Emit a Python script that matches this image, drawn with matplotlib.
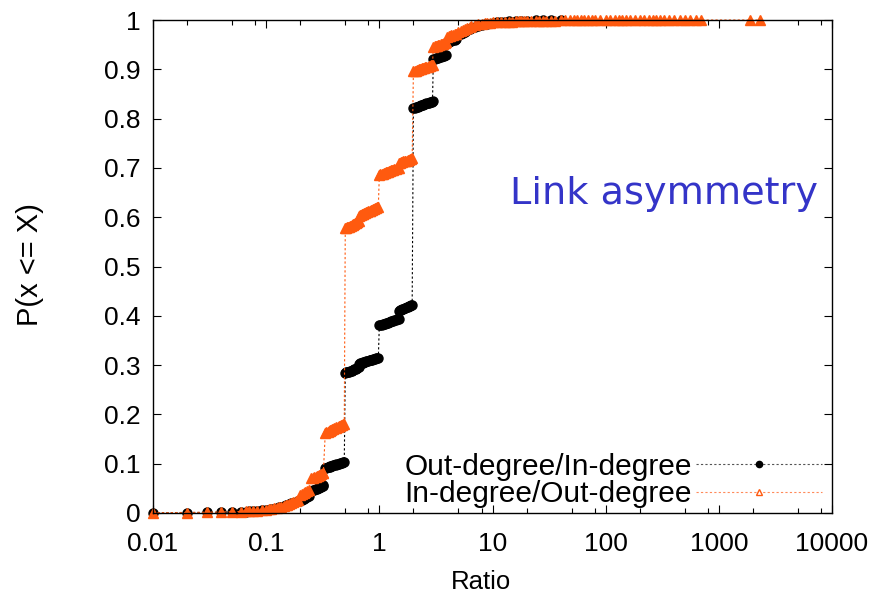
import matplotlib
matplotlib.use('Agg')
import matplotlib.pyplot as plt
from matplotlib.lines import Line2D
from matplotlib.ticker import FixedLocator, NullFormatter

# ratio values where both CDFs have points (grouped by step)
ratio_steps = [
    0.01, 0.02, 0.03, 0.04, 0.05, 0.06, 0.067, 0.071, 0.077, 0.083, 0.091, 0.1,
    0.105, 0.111, 0.118, 0.125, 0.13, 0.136, 0.143, 0.15, 0.154, 0.16, 0.167, 0.174, 0.182, 0.19,
    0.2, 0.208, 0.214, 0.222, 0.231, 0.24,
    0.25, 0.26, 0.267, 0.273, 0.28, 0.286, 0.294, 0.3, 0.308, 0.316, 0.32,
    0.333, 0.34, 0.35, 0.357, 0.364, 0.37, 0.375, 0.385, 0.39, 0.4, 0.41, 0.417, 0.43, 0.44,
    0.45, 0.46, 0.47, 0.48, 0.49,
    0.5, 0.51, 0.52, 0.53, 0.54, 0.55, 0.56, 0.57, 0.58, 0.59, 0.6, 0.61, 0.62, 0.63, 0.64,
    0.65, 0.66,
    0.667, 0.68, 0.69, 0.7, 0.71, 0.72, 0.73, 0.75, 0.76, 0.78, 0.8, 0.82, 0.83, 0.85, 0.86,
    0.88, 0.9, 0.92, 0.94, 0.96, 0.98,
    1.0, 1.02, 1.05, 1.07, 1.1, 1.12, 1.15, 1.18, 1.2, 1.22, 1.25, 1.28, 1.3, 1.33, 1.36,
    1.4, 1.43, 1.46, 1.48,
    1.5, 1.53, 1.56, 1.6, 1.63, 1.67, 1.7, 1.75, 1.8, 1.83, 1.86, 1.9, 1.95,
    2.0, 2.05, 2.1, 2.15, 2.2, 2.25, 2.3, 2.35, 2.4, 2.45, 2.5, 2.55, 2.6, 2.67, 2.75,
    2.8, 2.86, 2.9, 2.95,
    3.0, 3.1, 3.2, 3.25, 3.33, 3.4, 3.5, 3.6, 3.67, 3.75, 3.8, 3.9,
]

black_tail_x = [4.0, 4.14, 4.25, 4.33, 4.5, 4.67, 4.8, 5.0, 5.25, 5.5, 5.67, 6.0, 6.33, 6.5,
                7.0, 7.5, 8.0, 8.5, 9.0, 10.0, 11.0, 12.0, 13.0, 14.0, 16.0, 18.0, 20.0,
                24.0, 28.0, 33.0, 40.0]

orange_tail_x = [4.0, 4.14, 4.25, 4.33, 4.5, 4.67, 4.8,
                 5.0, 5.25, 5.5, 5.67, 6.0, 6.33, 6.5, 7.0, 7.5, 8.0, 8.5, 9.0, 9.5,
                 10, 11, 12, 13, 14, 15, 16, 17, 18, 19, 20,
                 22, 24, 26, 28, 30, 33, 36, 40, 44, 48, 52, 56, 60, 65, 70, 75, 80,
                 90, 100, 110, 120, 130, 140, 150, 165, 180, 200, 220, 240, 260, 280, 300,
                 330, 360, 400, 450, 500, 560, 630, 700,
                 1900, 2300]

# Out-degree/In-degree CDF
black_cdf = [
    0.0004, 0.0008, 0.0012, 0.0016, 0.002, 0.0026, 0.003, 0.0034, 0.004, 0.0046, 0.0054, 0.0062,
    0.007, 0.008, 0.009, 0.0105, 0.0115, 0.0125, 0.014, 0.0155, 0.0165, 0.018, 0.0195, 0.021, 0.0225, 0.024,
    0.025, 0.027, 0.029, 0.031, 0.033, 0.035,
    0.045, 0.046, 0.047, 0.048, 0.049, 0.050, 0.051, 0.052, 0.053, 0.055, 0.056,
    0.091, 0.092, 0.093, 0.093, 0.094, 0.095, 0.095, 0.096, 0.097, 0.098, 0.098, 0.099, 0.100, 0.100,
    0.101, 0.102, 0.102, 0.103, 0.104,
    0.284, 0.285, 0.285, 0.286, 0.287, 0.288, 0.288, 0.289, 0.290, 0.291, 0.292, 0.293, 0.293, 0.294, 0.295,
    0.296, 0.297,
    0.303, 0.304, 0.304, 0.305, 0.305, 0.306, 0.306, 0.307, 0.308, 0.308, 0.309, 0.310, 0.310, 0.311, 0.311,
    0.312, 0.313, 0.313, 0.314, 0.315, 0.315,
    0.381, 0.382, 0.382, 0.383, 0.384, 0.384, 0.385, 0.386, 0.386, 0.387, 0.388, 0.389, 0.389, 0.390, 0.391,
    0.392, 0.393, 0.393, 0.394,
    0.410, 0.411, 0.412, 0.413, 0.414, 0.415, 0.416, 0.417, 0.418, 0.419, 0.420, 0.421, 0.422,
    0.821, 0.822, 0.823, 0.824, 0.824, 0.825, 0.826, 0.827, 0.828, 0.828, 0.829, 0.830, 0.831, 0.831, 0.832,
    0.833, 0.834, 0.834, 0.835,
    0.920, 0.921, 0.922, 0.922, 0.923, 0.924, 0.925, 0.926, 0.926, 0.927, 0.928, 0.929,
    0.955, 0.956, 0.957, 0.958, 0.959, 0.960, 0.961, 0.969, 0.971, 0.973, 0.975, 0.979, 0.981, 0.983,
    0.986, 0.988, 0.990, 0.991, 0.992, 0.994, 0.995, 0.996, 0.9965, 0.997, 0.9975, 0.998, 0.9985,
    0.999, 0.9994, 0.9997, 1.0,
]

# In-degree/Out-degree CDF
orange_cdf = [
    0.0005, 0.001, 0.0015, 0.002, 0.0025, 0.003, 0.0035, 0.004, 0.0045, 0.005, 0.006, 0.007,
    0.0075, 0.0085, 0.0095, 0.011, 0.012, 0.013, 0.015, 0.016, 0.017, 0.019, 0.021, 0.023, 0.025, 0.027,
    0.037, 0.039, 0.041, 0.043, 0.045, 0.047,
    0.071, 0.072, 0.073, 0.074, 0.075, 0.076, 0.077, 0.078, 0.079, 0.081, 0.082,
    0.163, 0.164, 0.165, 0.166, 0.167, 0.168, 0.169, 0.170, 0.171, 0.172, 0.173, 0.174, 0.175, 0.176,
    0.177, 0.178, 0.179, 0.180, 0.181,
    0.578, 0.579, 0.580, 0.580, 0.581, 0.582, 0.583, 0.584, 0.585, 0.586, 0.587, 0.588, 0.589, 0.590, 0.591,
    0.592, 0.593,
    0.603, 0.604, 0.605, 0.606, 0.606, 0.607, 0.608, 0.609, 0.610, 0.611, 0.612, 0.613, 0.613, 0.614, 0.615,
    0.616, 0.617, 0.618, 0.619, 0.620, 0.621,
    0.686, 0.687, 0.688, 0.688, 0.689, 0.690, 0.691, 0.692, 0.692, 0.693, 0.694, 0.695, 0.695, 0.696, 0.697,
    0.698, 0.699, 0.700, 0.700,
    0.709, 0.710, 0.711, 0.712, 0.713, 0.714, 0.714, 0.715, 0.716, 0.717, 0.718, 0.719, 0.720,
    0.896, 0.897, 0.897, 0.898, 0.899, 0.900, 0.900, 0.901, 0.902, 0.903, 0.903, 0.904, 0.905, 0.905, 0.906,
    0.907, 0.908, 0.908, 0.909,
    0.946, 0.947, 0.948, 0.948, 0.949, 0.950, 0.951, 0.952, 0.952, 0.953, 0.954, 0.955,
    0.966, 0.967, 0.968, 0.969, 0.970, 0.971, 0.972,
    0.976, 0.978, 0.980, 0.981, 0.984, 0.986, 0.987, 0.989, 0.991, 0.992, 0.993, 0.994, 0.9945,
    0.995, 0.9955, 0.996, 0.9963, 0.9966, 0.9969, 0.9972, 0.9975, 0.9977, 0.9979, 0.998,
    0.9982, 0.9984, 0.9985, 0.9986, 0.9987, 0.9988, 0.9989, 0.999, 0.9991, 0.9992, 0.9993, 0.9993,
    0.9994, 0.9994, 0.9995, 0.9995, 0.9996,
    0.9996, 0.9997, 0.9997, 0.9997, 0.9998, 0.9998, 0.9998, 0.9998, 0.9999, 0.9999, 0.9999, 0.9999,
    0.9999, 0.99993, 0.99994, 0.99995, 0.99996, 0.99997, 0.99997, 0.99998, 0.99998, 0.99999, 0.99999,
    1.0, 1.0,
]

black_x = ratio_steps + black_tail_x
orange_x = ratio_steps + orange_tail_x

x_ticks = [0.01, 0.1, 1, 10, 100, 1000, 10000]
x_ticklabels = ['0.01', '0.1', '1', '10', '100', '1000', '10000']
y_ticks = [0, 0.1, 0.2, 0.3, 0.4, 0.5, 0.6, 0.7, 0.8, 0.9, 1]
y_ticklabels = ['0', '0.1', '0.2', '0.3', '0.4', '0.5', '0.6', '0.7', '0.8', '0.9', '1']

black_col = 'black'
orange_col = '#ff5a0f'

plt.rcParams['font.family'] = ['Liberation Sans', 'DejaVu Sans']

fig = plt.figure(figsize=(8.8, 6.03), dpi=100)
ax = fig.add_axes([153 / 880, 1 - 513 / 603, 679 / 880, 493 / 603])

ax.plot(black_x, black_cdf, color=black_col, lw=0.8, ls=(0, (2, 2)),
        marker='o', ms=6.5, mec=black_col, mfc=black_col, clip_on=False, zorder=3)
ax.plot(orange_x, orange_cdf, color=orange_col, lw=0.8, ls=(0, (2, 2)),
        marker='^', ms=7, mec=orange_col, mfc=orange_col, clip_on=False, zorder=4)

ax.set_xscale('log')
ax.set_xlim(0.01, 10000)
ax.set_ylim(0, 1)
ax.set_xticks(x_ticks)
ax.set_xticklabels(x_ticklabels)
minors = [m * 10.0 ** e for e in range(-2, 4) for m in (2, 5, 8)]
ax.xaxis.set_minor_locator(FixedLocator(minors))
ax.xaxis.set_minor_formatter(NullFormatter())
ax.set_yticks(y_ticks)
ax.set_yticklabels(y_ticklabels)

ax.tick_params(which='both', direction='in', top=True, right=True, labelsize=19, width=0.8)
ax.tick_params(which='major', length=6)
ax.tick_params(which='minor', length=3.5)
ax.tick_params(axis='x', pad=14)
ax.tick_params(axis='y', pad=9)
for s in ax.spines.values():
    s.set_linewidth(1.0)
    s.set_zorder(5)

fig.text(481 / 880, 1 - 582 / 603, 'Ratio', fontsize=18.5, ha='center', va='center')
fig.text(30 / 880, 1 - 265 / 603, 'P(x <= X)', fontsize=21, ha='center', va='center',
         rotation=90)

fig.text(818 / 880, 1 - 194 / 603, 'Link asymmetry', fontsize=27.5, color='#3434c8',
         ha='right', va='center', family='DejaVu Sans')

handles = [
    Line2D([], [], color='#555555', lw=0.8, ls=(0, (2, 2)), marker='o', ms=4.5,
           mfc=black_col, mec=black_col),
    Line2D([], [], color='#ff8a5a', lw=0.8, ls=(0, (2, 2)), marker='^', ms=5,
           mfc='white', mec=orange_col),
]
ax.legend(handles, ['Out-degree/In-degree', 'In-degree/Out-degree'],
          loc='lower right', bbox_to_anchor=(0.985, 0.01), frameon=False,
          fontsize=21.5, markerfirst=False, handlelength=4.2, handletextpad=0.15,
          labelspacing=-0.02, borderpad=0, borderaxespad=0)

fig.savefig('out.png', dpi=100)
